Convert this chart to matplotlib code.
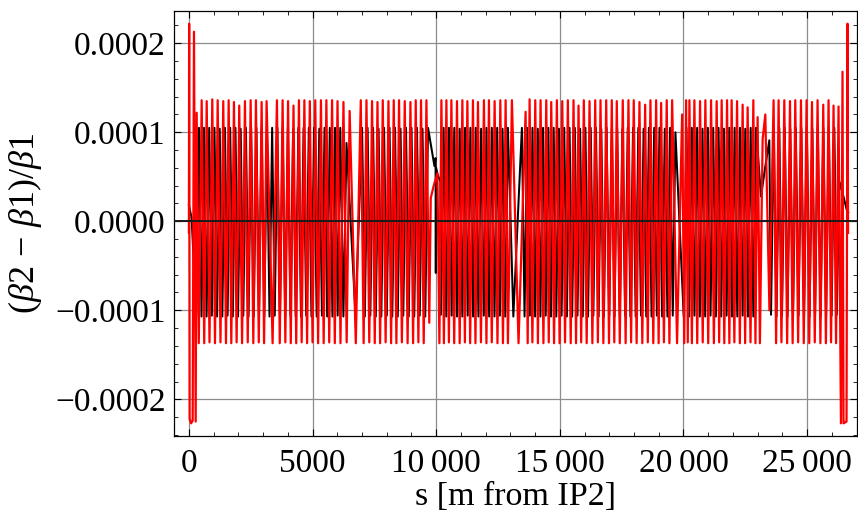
import matplotlib
matplotlib.use("Agg")
import matplotlib.pyplot as plt
from matplotlib.ticker import FixedLocator, MultipleLocator

# ---------------- data (values in units of 1e-6) ----------------
VALUE_UNIT = 1e-6

# red curve vertices: (s [m], (beta2-beta1)/beta1 * 1e6)
red_vertices = [
    (0, -13), (10, 222), (30, -222), (90, -227), (153, -224), (206, 213), (275, -225), (315, 122), (400, -137),
    (517, 136), (620, -137), (720, 135), (833, -136), (946, 137), (1055, -137), (1164, 136), (1277, -136),
    (1390, 135), (1500, -137), (1608, 136), (1715, -137), (1822, 134), (1930, -136), (2036, 130), (2150, -137),
    (2267, 135), (2380, -136), (2497, 136), (2605, -137), (2711, 136), (2826, -136), (2941, 134), (3040, -137),
    (3142, 135), (3385, -137),
    (3560, 136), (3675, -137), (3790, 136), (3900, -136), (4010, 135), (4120, -137), (4230, 130), (4340, -137),
    (4450, 136), (4560, -136), (4670, 136), (4780, -137), (4890, 135), (5000, -136), (5110, 136), (5225, -137),
    (5340, 136), (5450, -137), (5560, 136), (5675, -136), (5790, 136), (5900, -137), (6010, 135), (6130, -137),
    (6250, 134), (6380, -136), (6500, 124), (6749, -137),
    (6951, 136), (7066, -137), (7181, 136), (7294, -136), (7407, 135), (7516, -137), (7626, 134), (7733, -137),
    (7840, 136), (7955, -136), (8070, 135), (8177, -137), (8284, 136), (8391, -137), (8498, 136), (8613, -136),
    (8729, 135), (8844, -137), (8959, 134), (9066, -137), (9173, 136), (9280, -136), (9387, 136), (9496, -137),
    (9605, 136), (9720, -114), (9780, 26), (9900, 40), (10050, 54), (10130, -137),
    (10211, 136), (10312, -137), (10413, 136), (10514, -136), (10615, 136), (10728, -137), (10841, 135),
    (10950, -137), (11059, 136), (11160, -136), (11261, 135), (11374, -137), (11487, 136), (11588, -137),
    (11689, 134), (11810, -136), (11931, 136), (12032, -137), (12133, 136), (12248, -136), (12363, 135),
    (12478, -137), (12594, 136), (12700, -137), (12808, 136), (12900, -137), (13062, 136), (13330, -137),
    (13616, 123), (13700, -137), (13777, 137), (13890, -136), (14007, 136), (14114, -137), (14221, 136),
    (14336, -137), (14451, 136), (14552, -136), (14653, 134), (14766, -137), (14880, 136), (14990, -137),
    (15098, 135), (15210, -136), (15324, 136), (15440, -137), (15554, 136), (15655, -137), (15756, 130),
    (15863, -136), (15970, 136), (16085, -137), (16201, 135), (16316, -137), (16431, 136), (16538, -136),
    (16645, 136), (16760, -137), (16875, 136), (16988, -137), (17101, 136), (17202, -136), (17303, 135),
    (17424, -137), (17545, 136), (17660, -137), (17775, 136), (17882, -136), (17989, 136), (18105, -137),
    (18220, 134), (18335, -137), (18450, 131), (18557, -136), (18664, 136), (18779, -137), (18894, 136),
    (18995, -137), (19096, 133), (19209, -136), (19322, 136), (19431, -137), (19541, 136), (19740, -137),
    (19945, 120), (20030, -137), (20106, 136), (20173, -136), (20240, 136), (20340, -137), (20441, 136),
    (20556, -137), (20671, 135), (20778, -136), (20885, 136), (21000, -137), (21116, 136), (21229, -137),
    (21342, 135), (21443, -136), (21544, 136), (21650, -137), (21762, 136), (21855, -137), (21948, 136),
    (22057, -136), (22166, 135), (22279, -137), (22392, 131), (22493, -137), (22594, 128), (22710, -136),
    (22825, 136), (22910, -137), (22998, 117), (23090, -137), (23200, 92), (23309, 120), (23476, -100),
    (23644, 136), (23745, -137), (23846, 136), (23961, -136), (24077, 136), (24192, -137), (24307, 135),
    (24414, -137), (24521, 136), (24636, -136), (24751, 136), (24864, -137), (24977, 136), (25086, -137),
    (25196, 134), (25309, -136), (25422, 136), (25537, -137), (25652, 131), (25759, -137), (25866, 136),
    (25967, -136), (26068, 130), (26169, -137), (26270, 129), (26367, -227), (26431, 168), (26471, -227),
    (26593, -225), (26633, 222), (26655, -13),
]

# black curve vertices
black_vertices = [
    (0, 18), (110, 4), (300, -105), (408, 105), (510, -107), (610, 105), (716, -107), (822, 105), (928, -106),
    (1034, 105), (1140, -107), (1246, 104), (1352, -107), (1458, 105), (1564, -106), (1670, 105), (1776, -107),
    (1882, 105), (1988, -107), (2094, 104), (2200, -106), (2306, 105), (2412, -107), (2518, 105), (2624, -107),
    (2730, 105), (2836, -106), (2942, 105), (3048, -107), (3154, 104), (3260, -107), (3366, 105), (3472, -106),
    (3578, 105), (3684, -107), (3790, 105), (3896, -107), (4002, 105), (4108, -106), (4214, 104), (4320, -107),
    (4426, 105), (4532, -107), (4638, 105), (4744, -106), (4850, 105), (4956, -107), (5062, 105), (5168, -107),
    (5274, 104), (5380, -106), (5486, 105), (5592, -107), (5698, 105), (5804, -107), (5910, 105), (6016, -106),
    (6122, 105), (6248, -107), (6374, 88), (6737, -105),
    (7004, 105), (7115, -107), (7226, 105), (7337, -106), (7448, 105), (7559, -107), (7670, 104), (7781, -107),
    (7892, 105), (8003, -106), (8114, 105), (8225, -107), (8336, 105), (8447, -107), (8558, 104), (8669, -106),
    (8780, 105), (8891, -107), (9002, 105), (9113, -107), (9224, 105), (9335, -106), (9446, 104), (9558, -107),
    (9670, 105), (9930, 62), (9975, 71), (9985, -58), (9995, 60), (10060, 52), (10170, 45), (10190, -105),
    (10300, 105), (10408, -107), (10517, 105), (10625, -106), (10733, 105), (10842, -107), (10950, 104),
    (11058, -107), (11167, 105), (11275, -106), (11383, 105), (11492, -107), (11600, 105), (11708, -107),
    (11817, 104), (11925, -106), (12033, 105), (12142, -107), (12250, 105), (12358, -107), (12467, 105),
    (12575, -106), (12683, 104), (12792, -107), (12900, 105), (13120, -107), (13466, 105),
    (13573, -107), (13680, 105), (13787, -106), (13894, 105), (14001, -107), (14108, 104), (14215, -107),
    (14322, 105), (14429, -106), (14536, 105), (14643, -107), (14750, 105), (14857, -107), (14964, 104),
    (15071, -106), (15178, 105), (15285, -107), (15392, 105), (15499, -107), (15606, 105), (15713, -106),
    (15820, 104), (15927, -107), (16034, 105), (16141, -107), (16248, 105), (16355, -106), (16462, 105),
    (16569, -107), (16676, 104), (16783, -107), (16890, 105), (16997, -106), (17104, 105), (17211, -107),
    (17318, 105), (17425, -107), (17532, 104), (17639, -106), (17746, 105), (17853, -107), (17960, 105),
    (18067, -107), (18174, 105), (18281, -106), (18388, 104), (18495, -107), (18602, 105), (18709, -107),
    (18816, 105), (18923, -106), (19030, 105), (19137, -107), (19244, 104), (19351, -107), (19458, 105),
    (19566, -106), (19674, 100), (20010, -107),
    (20120, 105), (20228, -107), (20336, 105), (20444, -106), (20553, 105), (20661, -107), (20769, 104),
    (20877, -107), (20986, 105), (21094, -106), (21202, 105), (21310, -107), (21418, 105), (21526, -107),
    (21635, 104), (21743, -106), (21851, 105), (21960, -107), (22068, 105), (22176, -107), (22284, 105),
    (22392, -106), (22500, 104), (22608, -107), (22717, 105), (22825, -107), (22933, 105), (23135, 28),
    (23300, 60), (23471, 91), (23540, -105),
    (23650, 105), (23762, -107), (23873, 105), (23984, -106), (24095, 105), (24206, -107), (24318, 104),
    (24430, -107), (24541, 105), (24652, -106), (24764, 105), (24875, -107), (24986, 105), (25098, -107),
    (25209, 104), (25320, -106), (25432, 105), (25543, -107), (25655, 105), (25766, -107), (25877, 105),
    (25988, -106), (26100, 105), (26200, -105), (26300, 45), (26450, 30), (26600, 13), (26659, 10),
]

xtick_vals = [0, 5000, 10000, 15000, 20000, 25000]
xtick_labels = ["0", "5000", "10\u2009000", "15\u2009000", "20\u2009000", "25\u2009000"]
ytick_vals = [-0.0002, -0.0001, 0.0, 0.0001, 0.0002]
ytick_labels = ["\u22120.0002", "\u22120.0001", "0.0000", "0.0001", "0.0002"]

x_label = "s [m from IP2]"
y_label = r"$(\beta 2\,-\,\beta 1)/\beta 1$"

# ---------------- plotting ----------------
plt.rcParams["font.family"] = ["Liberation Serif", "DejaVu Serif"]
plt.rcParams["mathtext.fontset"] = "custom"
plt.rcParams["mathtext.rm"] = "Liberation Serif"
plt.rcParams["mathtext.it"] = "Liberation Serif:italic"

fig = plt.figure(figsize=(8.58, 5.22), dpi=100)
ax = fig.add_axes([0.2028, 0.1648, 0.7957, 0.8147])

black_s = [p[0] for p in black_vertices]
black_v = [p[1] * VALUE_UNIT for p in black_vertices]
red_s = [p[0] for p in red_vertices]
red_v = [p[1] * VALUE_UNIT for p in red_vertices]

ax.plot(black_s, black_v, color="black", lw=1.45, zorder=3, solid_joinstyle="round")
ax.plot(red_s, red_v, color="#ff0000", lw=1.6, zorder=4, solid_joinstyle="round")
ax.axhline(0, color="#1a1a1a", lw=1.4, zorder=5)

ax.set_xlim(-602, 27005)
ax.set_ylim(-0.0002412, 0.0002366)

ax.xaxis.set_major_locator(FixedLocator(xtick_vals))
ax.set_xticklabels(xtick_labels)
ax.xaxis.set_minor_locator(MultipleLocator(1000))
ax.yaxis.set_major_locator(FixedLocator(ytick_vals))
ax.set_yticklabels(ytick_labels)
ax.yaxis.set_minor_locator(MultipleLocator(0.00002))

ax.grid(True, which="major", color="#8c8c8c", lw=0.9, zorder=1)
ax.set_axisbelow(True)

ax.tick_params(which="both", direction="in", top=True, right=True, labelsize=24, colors="black")
ax.tick_params(which="major", length=5, width=0.8)
ax.tick_params(axis="x", which="major", pad=9)
ax.tick_params(axis="y", which="major", pad=6)
ax.tick_params(which="minor", length=3, width=0.6)
for sp in ax.spines.values():
    sp.set_linewidth(0.9)

ax.set_xlabel(x_label, fontsize=24.5, labelpad=2)
ax.set_ylabel(y_label, fontsize=26, labelpad=8)

fig.savefig("out.png", dpi=100)
